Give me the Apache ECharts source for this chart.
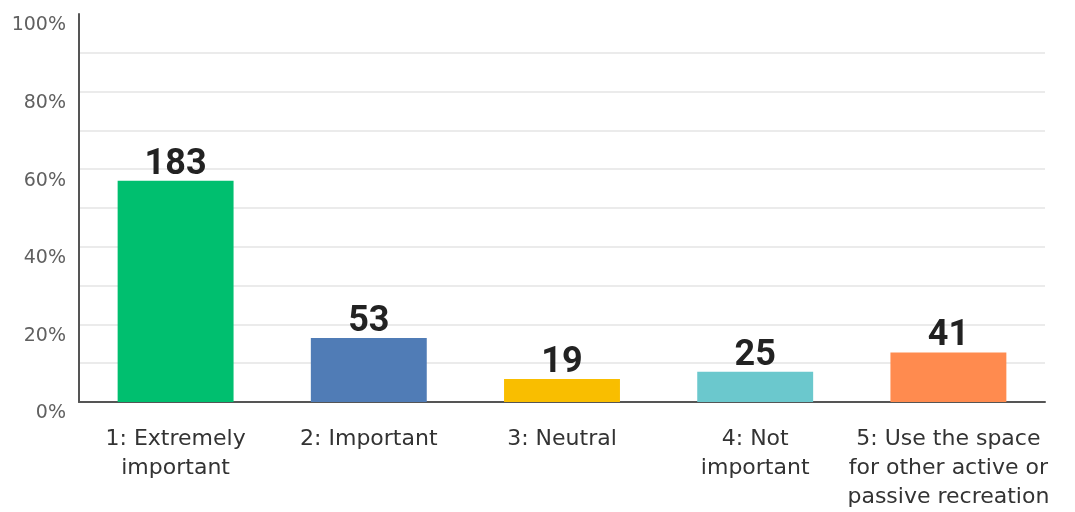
<!DOCTYPE html>
<html>
<head>
<meta charset="utf-8">
<style>html,body{margin:0;padding:0;background:#fff}#c{width:1075px;height:512px}</style>
<script src="https://cdn.jsdelivr.net/npm/echarts@6/dist/echarts.min.js"></script>
</head>
<body>
<div id="c"></div>
<script>
const categories = ["1: Extremely\nimportant", "2: Important", "3: Neutral", "4: Not\nimportant", "5: Use the space\nfor other active or\npassive recreation"];
const counts = [183, 53, 19, 25, 41];
const colors = ["#00BF6F", "#507CB6", "#F9BE00", "#6BC8CD", "#FF8B4F"];
const yTicks = [0, 20, 40, 60, 80, 100];

const total = counts.reduce((a, b) => a + b, 0);
const chart = echarts.init(document.getElementById('c'));
chart.setOption({
  animation: false,
  grid: { left: 79, right: 30, top: 14, bottom: 110, containLabel: false },
  xAxis: {
    type: 'category',
    data: categories,
    axisLine: { lineStyle: { color: '#555', width: 2 } },
    axisTick: { show: false },
    axisLabel: { color: '#333', fontSize: 22, fontFamily: '"DejaVu Sans", sans-serif', lineHeight: 29, margin: 23, interval: 0 }
  },
  yAxis: {
    type: 'value', min: 0, max: 100, interval: 10,
    axisLine: { show: true, lineStyle: { color: '#555', width: 2 } },
    axisTick: { show: false },
    splitLine: { show: true, showMaxLine: false, showMinLine: false, lineStyle: { color: '#ebebeb', width: 2 } },
    axisLabel: {
      color: '#606060', fontSize: 19, fontFamily: '"DejaVu Sans", sans-serif', margin: 13,
      verticalAlign: 'top', padding: [2, 0, 0, 0],
      formatter: v => yTicks.includes(v) ? v + '%' : ''
    }
  },
  series: [{
    type: 'bar',
    barWidth: '60%',
    data: counts.map((c, i) => ({ value: c / total * 100, itemStyle: { color: colors[i] } })),
    label: {
      show: true, position: 'top', distance: 4, offset: [0, 6],
      color: '#222', fontSize: 36, fontWeight: 'bold', fontFamily: 'Roboto, sans-serif',
      formatter: p => counts[p.dataIndex]
    }
  }]
});
</script>
</body>
</html>
